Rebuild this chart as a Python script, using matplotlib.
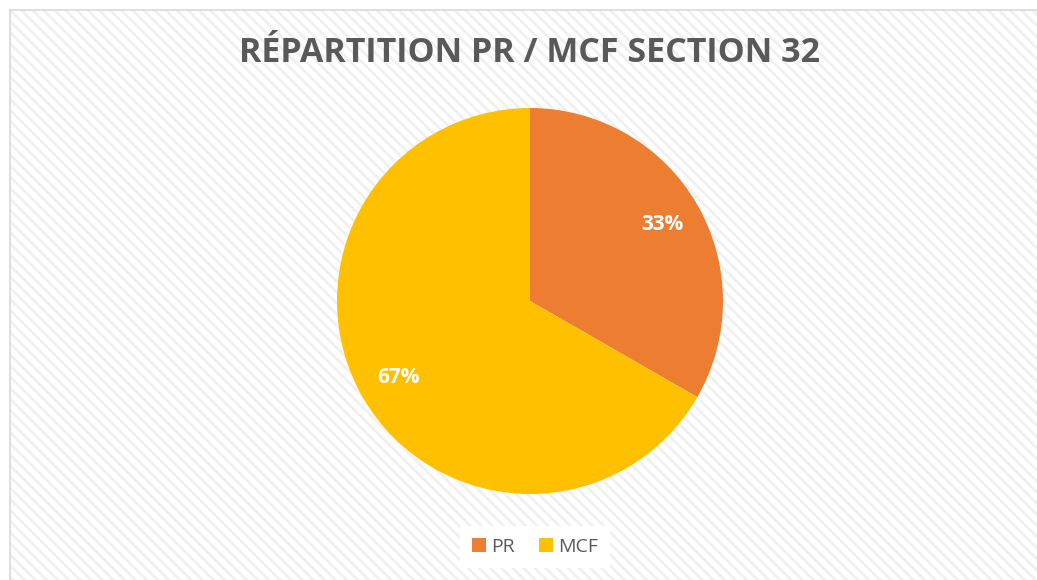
import matplotlib
matplotlib.use("Agg")
import matplotlib.pyplot as plt
from matplotlib.patches import Rectangle, Patch

categories = ["PR", "MCF"]
values = [33.3, 66.7]
colors = ["#ED7D31", "#FFC000"]
title = "RÉPARTITION PR / MCF SECTION 32"

W, H = 1037, 580
fig = plt.figure(figsize=(W / 100, H / 100), dpi=100)
fig.patch.set_facecolor("white")

plt.rcParams["hatch.linewidth"] = 2.0
x0 = 10 / W
y1 = (H - 9.5) / H
bg = Rectangle((x0, -0.05), 1.1, y1 + 0.05, transform=fig.transFigure,
               facecolor="white", edgecolor="#F0F0F0", hatch="\\\\\\", lw=0, zorder=-2)
fig.patches.append(bg)
border = Rectangle((x0, -0.05), 1.1, y1 + 0.05, transform=fig.transFigure,
                   facecolor="none", edgecolor="#D9D9D9", lw=1.2, zorder=-1)
fig.patches.append(border)

cx, cy, r = 530, 301, 193
ax = fig.add_axes([(cx - r) / W, (H - cy - r) / H, 2 * r / W, 2 * r / H])
ax.set_facecolor("none")
wedges, texts, autotexts = ax.pie(
    values, colors=colors, startangle=90, counterclock=False,
    autopct=lambda p: f"{p:.0f}%", pctdistance=0.79,
    textprops=dict(color="white", fontsize=15, fontweight="bold", family="Open Sans"),
    wedgeprops=dict(linewidth=0))
ax.set_xlim(-1, 1)
ax.set_ylim(-1, 1)
ax.set_aspect("equal")
ax.axis("off")

fig.text(cx / W, 1 - 53 / H, title, ha="center", va="center", fontsize=24.5,
         fontweight="bold", color="#595959", family="Open Sans")

handles = [Patch(facecolor=c, edgecolor="none") for c in colors]
leg = fig.legend(handles, categories, loc="center", bbox_to_anchor=(535 / W, 1 - 547 / H),
                 ncol=2, frameon=True, fancybox=False, handlelength=0.72, handleheight=0.72,
                 handletextpad=0.28, columnspacing=1.2, borderpad=0.6,
                 prop=dict(family="Open Sans", size=14))
leg.get_frame().set_facecolor("white")
leg.get_frame().set_edgecolor("none")
leg.get_frame().set_alpha(1)
for t in leg.get_texts():
    t.set_color("#595959")

fig.savefig("out.png", dpi=100)
